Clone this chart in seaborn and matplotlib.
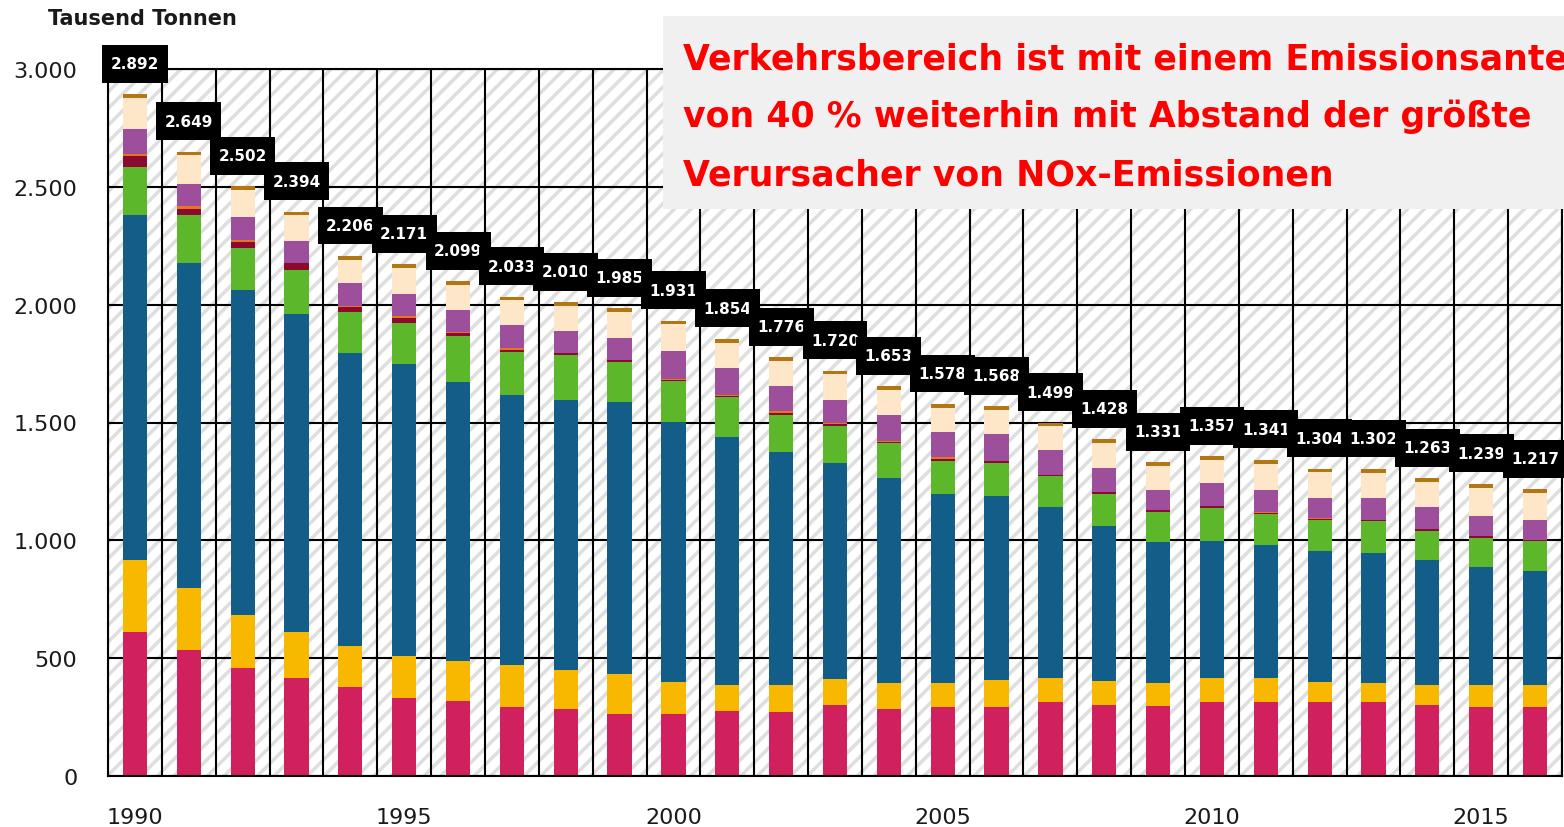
import numpy as np
import pandas as pd
import matplotlib
matplotlib.use("Agg")
import matplotlib.pyplot as plt
from matplotlib.patches import Rectangle
from matplotlib.path import Path
from matplotlib.ticker import FuncFormatter, FixedLocator
import seaborn as sns

# NOx-Emissionen nach Quellkategorien, Tausend Tonnen
years = list(range(1990, 2017))
totals = [2892, 2649, 2502, 2394, 2206, 2171, 2099, 2033, 2010, 1985, 1931, 1854, 1776, 1720,
          1653, 1578, 1568, 1499, 1428, 1331, 1357, 1341, 1304, 1302, 1263, 1239, 1217]

energie = [610, 536, 460, 414, 376, 330, 320, 291, 284, 264, 264, 275, 272, 301,
           284, 293, 293, 314, 301, 297, 313, 313, 313, 313, 303, 293, 293]
industrie = [308, 260, 224, 196, 177, 178, 169, 180, 167, 169, 134, 112, 114, 111,
             111, 102, 114, 102, 102, 98, 102, 102, 85, 83, 84, 94, 94]
verkehr = [1462, 1379, 1379, 1350, 1242, 1240, 1181, 1146, 1146, 1155, 1105, 1051, 987, 916,
           868, 803, 780, 724, 656, 596, 583, 566, 557, 550, 529, 501, 482]
haushalte = [205, 205, 176, 187, 175, 174, 198, 183, 189, 170, 172, 169, 159, 158,
             149, 139, 141, 132, 138, 129, 139, 131, 130, 137, 122, 122, 129]
militaer = [47, 26, 28, 28, 19, 20, 10, 7, 7, 6, 5, 7, 8, 8,
            6, 8, 7, 4, 7, 8, 8, 6, 6, 3, 8, 8, 2]
weitere = [8, 11, 6, 3, 7, 9, 7, 9, 3, 3, 3, 3, 10, 3,
           3, 10, 3, 2, 2, 2, 2, 2, 2, 2, 2, 2, 1]
prozesse = [105, 93, 99, 91, 96, 94, 93, 99, 91, 90, 119, 113, 103, 100,
            111, 103, 112, 107, 102, 85, 96, 95, 85, 90, 92, 84, 84]
landwirtschaft = [132, 124, 115, 110, 99, 111, 106, 103, 108, 113, 114, 109, 108, 108,
                  106, 105, 103, 99, 105, 101, 99, 111, 111, 109, 108, 120, 117]
sonstige = [15, 15, 15, 15, 15, 15, 15, 15, 15, 15, 15, 15, 15, 15,
            15, 15, 15, 15, 15, 15, 15, 15, 15, 15, 15, 15, 15]

layers = [
    ("Energiewirtschaft", energie, "#D0205E"),
    ("Verarbeitendes Gewerbe", industrie, "#F9B800"),
    ("Verkehr", verkehr, "#135E88"),
    ("Haushalte", haushalte, "#5DB72A"),
    ("Militär", militaer, "#8C0A30"),
    ("Weitere", weitere, "#E9741C"),
    ("Industrieprozesse", prozesse, "#9D4F9B"),
    ("Landwirtschaft", landwirtschaft, "#FDE7C8"),
    ("Sonstige", sonstige, "#B37614"),
]

headline = ["Verkehrsbereich ist mit einem Emissionsanteil",
            "von 40 % weiterhin mit Abstand der größte",
            "Verursacher von NOx-Emissionen"]

sns.set_style("white")
plt.rcParams["font.family"] = ["DejaVu Sans"]
plt.rcParams["hatch.linewidth"] = 2.5
plt.rcParams["hatch.color"] = "#dedede"


def label_box(x0, y0, width, height, mutation_size):
    # schwarzes Kästchen, breiter als hoch gepolstert
    px, py = 0.55 * mutation_size, 0.75 * mutation_size
    left, bottom = x0 - px, y0 - py
    right, top = x0 + width + px, y0 + height + py
    return Path([(left, bottom), (right, bottom), (right, top), (left, top), (left, bottom)],
                closed=True)


df = pd.DataFrame({"Jahr": [str(y) for y in years]})
cum = np.zeros(len(years))
for name, vals, _ in layers:
    cum = cum + np.array(vals)
    df[name] = cum

fig = plt.figure(figsize=(15.64, 8.28), dpi=100)
ax = fig.add_axes([108 / 1564, 51 / 828, 1454 / 1564, 707 / 828])

# gestreifter Hintergrund
ax.add_patch(Rectangle((-0.5, 0), len(years), 3000, facecolor="white", edgecolor="#dedede",
                       hatch="//", linewidth=0, zorder=0.1))

# gestapelte Balken: von oben nach unten überlagern
for name, _, color in reversed(layers):
    sns.barplot(data=df, x="Jahr", y=name, color=color, width=0.45, saturation=1,
                errorbar=None, linewidth=0, ax=ax, zorder=2)

ax.set_xlim(-0.5, len(years) - 0.5)
ax.set_ylim(0, 3000)
ax.set_axisbelow(True)

ax.set_yticks(np.arange(0, 3001, 500))
ax.yaxis.set_major_formatter(FuncFormatter(lambda v, p: f"{int(v):,}".replace(",", ".")))
ax.set_xticks([0, 5, 10, 15, 20, 25])
ax.set_xticklabels(["1990", "1995", "2000", "2005", "2010", "2015"])
ax.xaxis.set_minor_locator(FixedLocator(np.arange(-0.5, len(years), 1.0)))
ax.tick_params(axis="x", which="major", length=0, pad=22, labelsize=16, labelcolor="#1a1a1a")
ax.tick_params(axis="x", which="minor", length=7, width=1.5, color="black", direction="out")
ax.tick_params(axis="y", length=0, pad=22, labelsize=16, labelcolor="#1a1a1a")
ax.grid(axis="y", color="black", linewidth=1.5)
ax.grid(axis="x", which="minor", color="black", linewidth=1.5)
ax.grid(axis="x", which="major", visible=False)
ax.set_xlabel("")
ax.set_ylabel("")
for s in ax.spines.values():
    s.set_visible(True)
    s.set_color("black")
    s.set_linewidth(1.5)

# Summenlabels
for i, t in enumerate(totals):
    ax.text(i, t + 130, f"{t:,}".replace(",", "."), ha="center", va="center", color="white",
            fontsize=11, fontweight="bold", zorder=5,
            bbox=dict(boxstyle=label_box, fc="black", ec="none"))

fig.text(48 / 1564, 1 - 19 / 828, "Tausend Tonnen", fontsize=15, fontweight="bold",
         va="center", ha="left", color="#1a1a1a")

# Hinweisbox
fig.add_artist(Rectangle((663 / 1564, 1 - 210 / 828), 0.6, 193 / 828, transform=fig.transFigure,
                         facecolor="#f0f0f0", edgecolor="none", zorder=10))
for k, line in enumerate(headline):
    fig.text(683 / 1564, 1 - (69 + 58 * k) / 828, line, color="#ff0000", fontsize=25,
             fontweight="bold", va="baseline", ha="left", zorder=11)

fig.savefig("out.png", dpi=100)
